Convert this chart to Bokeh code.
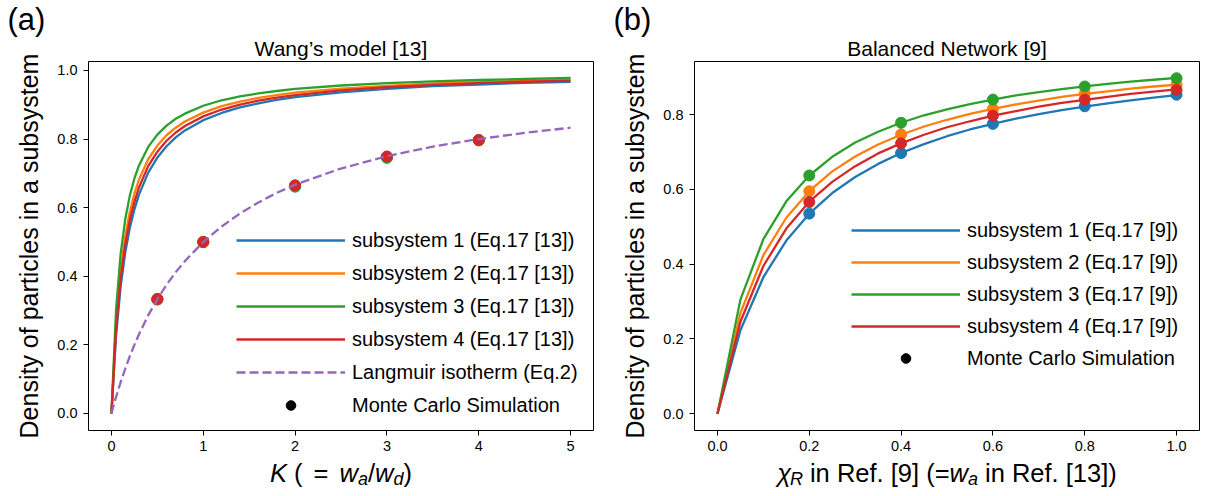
import math
from bokeh.plotting import figure
from bokeh.models import (Range1d, FixedTicker, PrintfTickFormatter, Legend, LegendItem,
                          Label, Title)
from bokeh.layouts import row, column
from bokeh.embed import file_html
from bokeh.resources import INLINE

FONT = "Liberation Sans"
C1, C2, C3, C4, C5 = "#1f77b4", "#ff7f0e", "#2ca02c", "#d62728", "#9467bd"
NAN = float("nan")

# ---------------- panel (a): Wang's model ----------------
K = [0, 0.05, 0.1, 0.15, 0.2, 0.25, 0.3, 0.4, 0.5, 0.6, 0.7, 0.8, 1.0, 1.2, 1.4,
     1.6, 1.8, 2.0, 2.5, 3.0, 3.5, 4.0, 4.5, 5.0]
a_sub1 = [0, 0.227, 0.370, 0.469, 0.541, 0.595, 0.638, 0.702, 0.746, 0.779, 0.805, 0.825,
          0.855, 0.876, 0.892, 0.904, 0.914, 0.922, 0.936, 0.946, 0.954, 0.959, 0.964, 0.967]
a_sub2 = [0, 0.263, 0.417, 0.517, 0.588, 0.641, 0.682, 0.741, 0.781, 0.811, 0.833, 0.851,
          0.877, 0.896, 0.909, 0.920, 0.928, 0.935, 0.947, 0.955, 0.962, 0.966, 0.970, 0.973]
a_sub3 = [0, 0.303, 0.465, 0.566, 0.635, 0.685, 0.723, 0.777, 0.813, 0.839, 0.859, 0.874,
          0.897, 0.913, 0.924, 0.933, 0.940, 0.946, 0.956, 0.963, 0.968, 0.972, 0.975, 0.978]
a_sub4 = [0, 0.244, 0.392, 0.492, 0.563, 0.617, 0.659, 0.721, 0.763, 0.795, 0.819, 0.838,
          0.866, 0.886, 0.900, 0.912, 0.921, 0.928, 0.942, 0.951, 0.958, 0.963, 0.967, 0.970]
a_langmuir = [0, 0.048, 0.091, 0.130, 0.167, 0.200, 0.231, 0.286, 0.333, 0.375, 0.412, 0.444,
              0.500, 0.545, 0.583, 0.615, 0.643, 0.667, 0.714, 0.750, 0.778, 0.800, 0.818, 0.833]
K_mc = [0.5, 1, 2, 3, 4]
a_mc1 = [0.333, 0.500, 0.664, 0.748, 0.797]
a_mc2 = [0.333, 0.500, 0.664, 0.748, 0.797]
a_mc3 = [0.332, 0.499, 0.661, 0.745, 0.796]
a_mc4 = [0.334, 0.500, 0.665, 0.749, 0.797]
a_xticks = [0, 1, 2, 3, 4, 5]
a_yticks = [0.0, 0.2, 0.4, 0.6, 0.8, 1.0]
a_labels = ["subsystem 1 (Eq.17 [13])", "subsystem 2 (Eq.17 [13])",
            "subsystem 3 (Eq.17 [13])", "subsystem 4 (Eq.17 [13])",
            "Langmuir isotherm (Eq.2)", "Monte Carlo Simulation"]

# ---------------- panel (b): Balanced network ----------------
chi = [0, 0.05, 0.1, 0.15, 0.2, 0.25, 0.3, 0.35, 0.4, 0.45, 0.5, 0.55, 0.6, 0.65,
       0.7, 0.75, 0.8, 0.85, 0.9, 0.95, 1.0]
b_sub1 = [0, 0.223, 0.365, 0.463, 0.535, 0.590, 0.633, 0.668, 0.697, 0.721, 0.742,
          0.760, 0.775, 0.789, 0.801, 0.812, 0.821, 0.830, 0.838, 0.845, 0.852]
b_sub2 = [0, 0.269, 0.424, 0.524, 0.595, 0.648, 0.688, 0.720, 0.746, 0.768, 0.786,
          0.802, 0.815, 0.827, 0.837, 0.847, 0.855, 0.862, 0.869, 0.875, 0.880]
b_sub3 = [0, 0.305, 0.467, 0.568, 0.637, 0.687, 0.725, 0.754, 0.778, 0.798, 0.814,
          0.828, 0.840, 0.851, 0.860, 0.868, 0.875, 0.882, 0.888, 0.893, 0.898]
b_sub4 = [0, 0.246, 0.395, 0.495, 0.567, 0.620, 0.662, 0.696, 0.723, 0.746, 0.766,
          0.782, 0.797, 0.809, 0.821, 0.831, 0.839, 0.847, 0.855, 0.861, 0.867]
chi_mc = [0.2, 0.4, 0.6, 0.8, 1.0]
b_mc1 = [0.535, 0.697, 0.775, 0.822, 0.853]
b_mc2 = [0.595, 0.747, 0.815, 0.856, 0.880]
b_mc3 = [0.637, 0.778, 0.840, 0.875, 0.897]
b_mc4 = [0.566, 0.723, 0.797, 0.840, 0.866]
b_xticks = [0.0, 0.2, 0.4, 0.6, 0.8, 1.0]
b_yticks = [0.0, 0.2, 0.4, 0.6, 0.8]
b_labels = ["subsystem 1 (Eq.17 [9])", "subsystem 2 (Eq.17 [9])",
            "subsystem 3 (Eq.17 [9])", "subsystem 4 (Eq.17 [9])",
            "Monte Carlo Simulation"]

# approximate advance widths (em) for composing mixed-style labels
W = {'K': .667, ' ': .278, '(': .333, ')': .333, '=': .584, 'w': .722, 'a': .556,
     '/': .278, 'd': .556, 'χ': .5, 'R': .722, 'i': .222, 'n': .556, 'e': .556,
     'f': .278, '.': .278, '[': .278, ']': .278, '1': .556, '3': .556, '9': .556}
MID = 0.3465  # middle of the text box above the baseline, in em


def tw(t, s):
    return sum(W.get(c, .556) for c in t) * s


def lbl(p, x, base_y, text, size, italic=False):
    p.add_layout(Label(x=x, y=base_y + MID * size, x_units="screen", y_units="screen",
                       text=text, text_font=FONT, text_font_size=f"{size}px",
                       text_font_style="italic" if italic else "normal",
                       text_align="left", text_baseline="middle", text_color="black"))


def rich(p, pieces, cx, by):
    """pieces: (text, size, italic, dy) tuples or numbers (extra gaps in px)."""
    def adv(pc):
        return pc if isinstance(pc, (int, float)) else tw(pc[0], pc[1])
    x = cx - sum(adv(pc) for pc in pieces) / 2
    for pc in pieces:
        if not isinstance(pc, (int, float)):
            t, s, it, dy = pc
            lbl(p, x, by + dy, t, s, italic=it)
        x += adv(pc)


def style(p, xt, yt, xfmt, yfmt):
    p.xgrid.visible = False
    p.ygrid.visible = False
    p.outline_line_color = "black"
    p.outline_line_width = 1
    p.outline_line_alpha = 1
    p.background_fill_color = "white"
    p.border_fill_color = "white"
    p.xaxis.ticker = FixedTicker(ticks=xt)
    p.yaxis.ticker = FixedTicker(ticks=yt)
    p.xaxis.formatter = PrintfTickFormatter(format=xfmt)
    p.yaxis.formatter = PrintfTickFormatter(format=yfmt)
    for ax in (p.xaxis[0], p.yaxis[0]):
        ax.axis_line_color = None
        ax.major_tick_line_color = "black"
        ax.major_tick_line_width = 1
        ax.major_tick_out = 5
        ax.major_tick_in = 0
        ax.minor_tick_line_color = None
        ax.major_label_text_font = FONT
        ax.major_label_text_font_size = "14.5px"
        ax.major_label_text_color = "black"
    p.xaxis[0].major_label_standoff = 5
    p.yaxis[0].major_label_standoff = 6
    ya = p.yaxis[0]
    ya.axis_label = "Density of particles in a subsystem"
    ya.axis_label_text_font = FONT
    ya.axis_label_text_font_size = "25px"
    ya.axis_label_text_font_style = "normal"
    ya.axis_label_text_color = "black"
    ya.axis_label_standoff = 11


def titles(p, main, tag):
    p.add_layout(Title(text=main, align="center", text_font=FONT, text_font_size="21px",
                       text_font_style="normal", text_color="black", standoff=3), "above")
    p.add_layout(Title(text=tag, align="left", offset=-81, text_font=FONT, text_font_size="31px",
                       text_font_style="normal", text_color="black", standoff=-7), "above")


def label_fig(width):
    q = figure(width=width, height=36, x_range=Range1d(0, width), y_range=Range1d(0, 36),
               output_backend="svg", toolbar_location=None, x_axis_location=None,
               y_axis_location=None, min_border=0)
    q.xgrid.visible = False
    q.ygrid.visible = False
    q.outline_line_color = None
    q.background_fill_color = "white"
    q.border_fill_color = "white"
    return q


LW = 2.3
MS = 11
TOP, FH, BOT = 61, 369, 26
FW = 505
XL = 25.5   # x-label font size
XS = 18     # subscript size
SUB = -3.5  # subscript drop

# ---------- figure (a) ----------
p1 = figure(width=608, height=TOP + FH + BOT, x_range=Range1d(-0.25, 5.25),
            y_range=Range1d(-0.0497, 1.026), output_backend="svg", toolbar_location=None,
            min_border_left=88, min_border_right=15, min_border_top=TOP, min_border_bottom=BOT)
style(p1, a_xticks, a_yticks, "%d", "%.1f")
titles(p1, "Wang’s model [13]", "(a)")

r1 = p1.line(K, a_sub1, color=C1, line_width=LW)
r2 = p1.line(K, a_sub2, color=C2, line_width=LW)
r3 = p1.line(K, a_sub3, color=C3, line_width=LW)
r4 = p1.line(K, a_sub4, color=C4, line_width=LW)
p1.scatter(K_mc, a_mc1, color=C1, size=MS)
p1.scatter(K_mc, a_mc2, color=C2, size=MS)
p1.scatter(K_mc, a_mc3, color=C3, size=MS)
p1.scatter(K_mc, a_mc4, color=C4, size=MS)
r5 = p1.line(K, a_langmuir, color=C5, line_width=LW, line_dash="9 4")
r6 = p1.scatter([NAN], [NAN], color="black", size=MS)

leg1 = Legend(items=[LegendItem(label=l, renderers=[r]) for l, r in
                     zip(a_labels, [r1, r2, r3, r4, r5, r6])],
              location=(148, 13), padding=0, margin=0, spacing=9,
              glyph_width=109, glyph_height=24, label_height=24, label_standoff=7,
              label_text_font=FONT, label_text_font_size="20px", label_text_color="black",
              border_line_color=None, background_fill_alpha=0)
p1.add_layout(leg1)

# the label strip's frame is aligned with the plot frame above it by the column layout
q1 = label_fig(608)
rich(q1, [("K", XL, True, 0), 7, ("(", XL, False, 0), 11, ("=", XL, False, 0), 11,
          ("w", XL, True, 0), ("a", XS, True, SUB), ("/", XL, False, 0),
          ("w", XL, True, 0), ("d", XS, True, SUB), (")", XL, False, 0)],
     FW / 2, 10.3)

# ---------- figure (b) ----------
p2 = figure(width=592, height=TOP + FH + BOT, x_range=Range1d(-0.05, 1.05),
            y_range=Range1d(-0.0449, 0.9418), output_backend="svg", toolbar_location=None,
            min_border_left=86, min_border_right=1, min_border_top=TOP, min_border_bottom=BOT)
style(p2, b_xticks, b_yticks, "%.1f", "%.1f")
titles(p2, "Balanced Network [9]", "(b)")

rs = []
for ys, ms, c in [(b_sub1, b_mc1, C1), (b_sub2, b_mc2, C2), (b_sub3, b_mc3, C3), (b_sub4, b_mc4, C4)]:
    rs.append(p2.line(chi, ys, color=c, line_width=LW))
    p2.scatter(chi_mc, ms, color=c, size=MS)
rs.append(p2.scatter([NAN], [NAN], color="black", size=MS))

leg2 = Legend(items=[LegendItem(label=l, renderers=[r]) for l, r in zip(b_labels, rs)],
              location=(157, 60), padding=0, margin=0, spacing=8,
              glyph_width=109, glyph_height=24, label_height=24, label_standoff=7,
              label_text_font=FONT, label_text_font_size="20px", label_text_color="black",
              border_line_color=None, background_fill_alpha=0)
p2.add_layout(leg2)

q2 = label_fig(592)
rich(q2, [("χ", XL, True, 0), ("R", XS, True, SUB), 7, ("in Ref. [9] (=", XL, False, 0),
          ("w", XL, True, 0), ("a", XS, True, SUB), 7, ("in Ref. [13])", XL, False, 0)],
     FW / 2, 10.3)

layout = row(column(p1, q1), column(p2, q2))
open("out.html", "w").write(file_html(layout, INLINE))
